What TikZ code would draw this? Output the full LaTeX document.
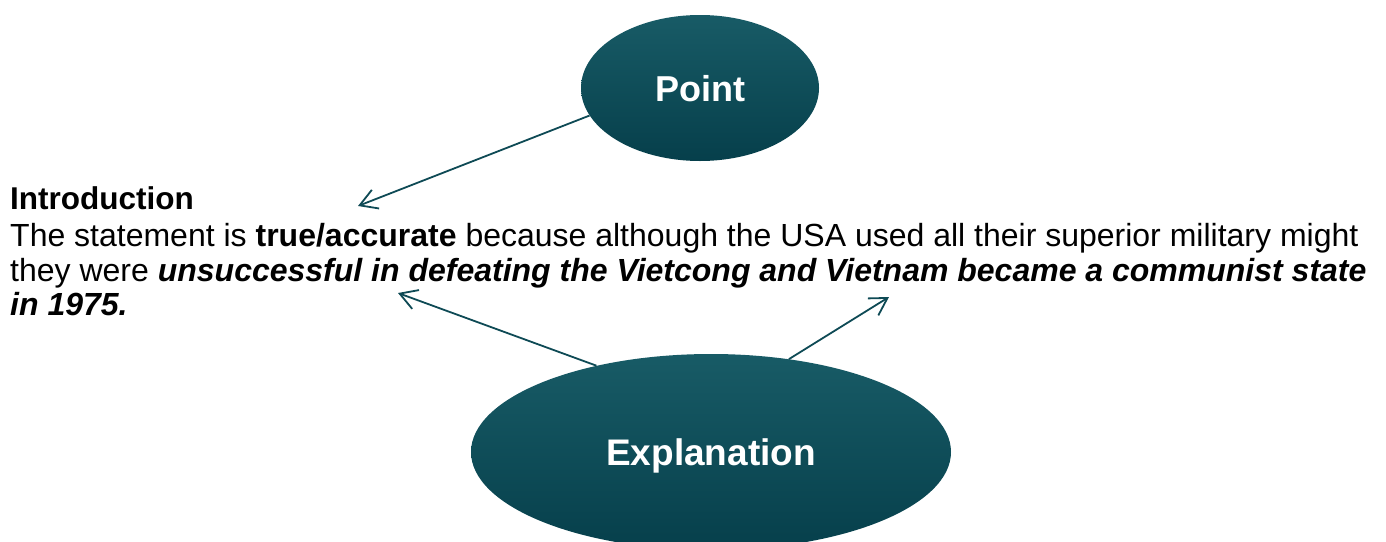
\documentclass[tikz,border=0pt]{standalone}
\usepackage{fontspec}
\setmainfont{Liberation Sans}
\usetikzlibrary{arrows.meta,shapes.geometric}

\definecolor{tealtop}{HTML}{185B66}
\definecolor{tealbot}{HTML}{063F4B}
\definecolor{tealline}{HTML}{0E4A55}

\tikzset{
	bubble/.style={ellipse, inner sep=0pt, top color=tealtop, bottom color=tealbot,
		text=white, text depth=0pt, font=\fontsize{36}{40}\selectfont\bfseries},
	pointer/.style={draw=tealline, line width=1.8pt,
		-{Straight Barb[length=17pt,width=20pt,line width=1.8pt]}},
	txt/.style={anchor=base west, inner sep=0pt, font=\fontsize{32}{36}\selectfont}
}

\begin{document}
\begin{tikzpicture}[x=1pt,y=-1pt]

\useasboundingbox (0,0) rectangle (1386,541);

\node[bubble, minimum width=238, minimum height=146, text height=27pt] (point) at (700,88) {Point};
\node[bubble, minimum width=480, minimum height=196, text height=26pt, font=\fontsize{37}{40}\selectfont\bfseries] (expl) at (711,452) {Explanation};

% text block
\node[txt, font=\fontsize{31.5}{34}\selectfont\bfseries] (intro) at (10,209) {Introduction};
\node[txt] (line1) at (10,246) {The statement is \textbf{true/accurate} because although the USA used all their superior military might};
\node[txt] (line2) at (10,281) {they were \textbf{\itshape unsuccessful in defeating the Vietcong and Vietnam became a communist state}};
\node[txt] (line3) at (10,315) {\textbf{\itshape in 1975.}};

% arrow ends
\coordinate (tipA) at (358,206);
\coordinate (tipB) at (398,293);
\coordinate (tipC) at (889,297);

\draw [pointer] (point.194) -- (tipA);
\draw [pointer] (expl.143) -- (tipB);
\draw [pointer] (expl.50) -- (tipC);
\end{tikzpicture}
\end{document}
